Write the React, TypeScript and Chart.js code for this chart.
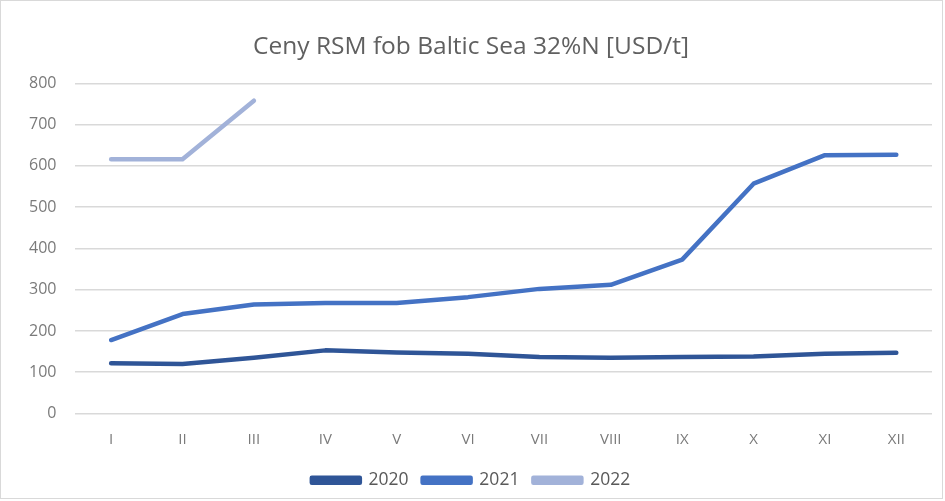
import React, { useEffect, useRef } from "react";
import { Chart, registerables } from "chart.js";

Chart.register(...registerables);

const months = ["I", "II", "III", "IV", "V", "VI", "VII", "VIII", "IX", "X", "XI", "XII"];
const s2020 = [122, 120, 135, 153, 148, 145, 137, 135, 137, 138, 145, 147];
const s2021 = [178, 241, 264, 268, 268, 282, 302, 312, 373, 557, 626, 627];
const s2022 = [616, 616, 758, null, null, null, null, null, null, null, null, null];
const yTicks = [0, 100, 200, 300, 400, 500, 600, 700, 800];

const FONT = "'Open Sans', 'Liberation Sans', sans-serif";

export default function App() {
  const ref = useRef<HTMLCanvasElement | null>(null);
  useEffect(() => {
    if (!ref.current) return;
    const chart = new Chart(ref.current, {
      type: "line",
      data: {
        labels: months,
        datasets: [
          { label: "2020", data: s2020, borderColor: "#2f5597", backgroundColor: "#2f5597", borderWidth: 4.5, pointRadius: 0, tension: 0, borderCapStyle: "round", borderJoinStyle: "round" },
          { label: "2021", data: s2021, borderColor: "#4472c4", backgroundColor: "#4472c4", borderWidth: 4.5, pointRadius: 0, tension: 0, borderCapStyle: "round", borderJoinStyle: "round" },
          { label: "2022", data: s2022, borderColor: "#a2b2d9", backgroundColor: "#a2b2d9", borderWidth: 4.5, pointRadius: 0, tension: 0, borderCapStyle: "round", borderJoinStyle: "round" },
        ],
      },
      options: {
        animation: false,
        responsive: false,
        maintainAspectRatio: false,
        layout: { padding: { left: 10, right: 13, top: 8, bottom: 2 } },
        plugins: {
          title: {
            display: true,
            text: "Ceny RSM fob Baltic Sea 32%N [USD/t]",
            color: "#606060",
            font: { family: FONT, size: 24.5, weight: "normal" },
            padding: { top: 24, bottom: 22 },
          },
          legend: {
            position: "bottom",
            labels: {
              color: "#595959",
              font: { family: FONT, size: 17.5 },
              boxWidth: 48,
              boxHeight: 5,
              padding: 14,
            },
          },
          tooltip: { enabled: false },
        },
        scales: {
          x: {
            offset: true,
            grid: { display: false },
            border: { display: false },
            ticks: { color: "#7a7a7a", font: { family: FONT, size: 15 }, padding: 9 },
          },
          y: {
            min: 0,
            max: 800,
            afterBuildTicks: (axis: any) => {
              axis.ticks = yTicks.map((v) => ({ value: v }));
            },
            grid: { color: "#d9d9d9", lineWidth: 1.5, drawTicks: false },
            border: { display: false },
            ticks: { color: "#7a7a7a", font: { family: FONT, size: 16 }, padding: 19 },
          },
        },
      },
    });
    return () => chart.destroy();
  }, []);
  return (
    <div style={{ position: "absolute", left: 0, top: 0, width: 945, height: 501, background: "#fff" }}>
      <div style={{ position: "absolute", left: 0, top: 0, width: 941, height: 497, border: "1px solid #d9d9d9" }} />
      <canvas ref={ref} width={945} height={501} style={{ position: "absolute", left: 0, top: 0 }} />
    </div>
  );
}
